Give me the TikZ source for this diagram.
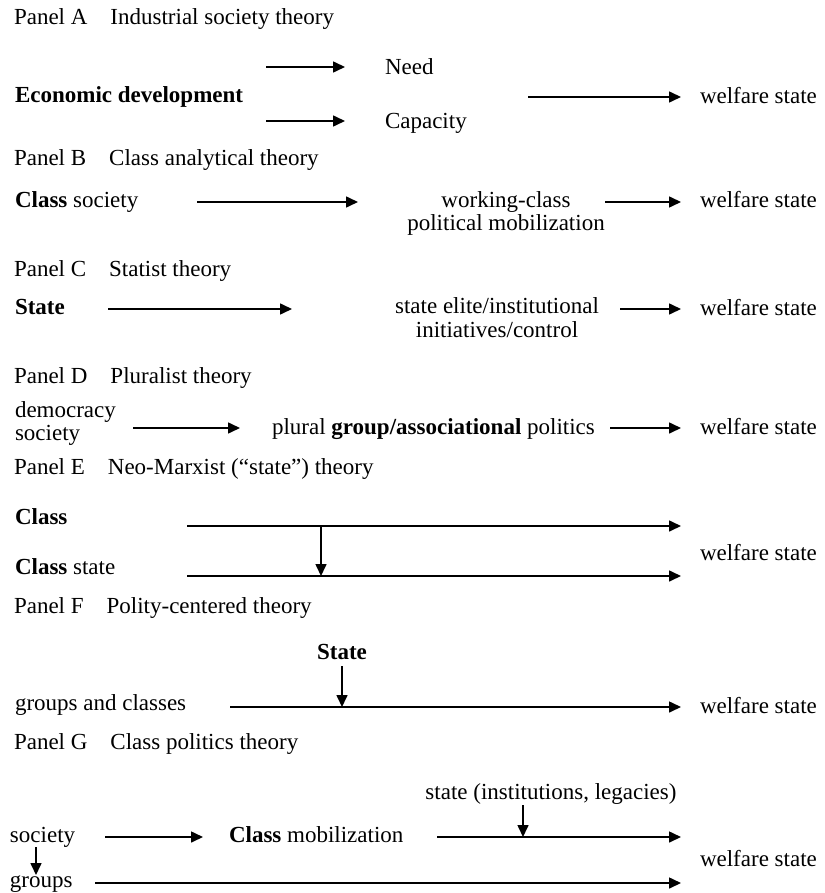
\documentclass[tikz,border=0pt]{standalone}
\usepackage{fontspec}
\setmainfont{Liberation Serif}
\usetikzlibrary{arrows.meta}
\begin{document}
\begin{tikzpicture}[x=0.5pt,y=-0.5pt,
  every node/.style={font=\fontsize{11.5}{13.8}\selectfont, inner sep=0pt, outer sep=0pt},
  txt/.style={anchor=base west},
  ctxt/.style={anchor=base},
  arr/.style={-{Triangle[length=6pt,width=5.5pt]}, line width=0.8pt}]
\useasboundingbox (0,0) rectangle (824,893);
% Panel A
\node[txt] (tA) at (14,25) {Panel A\hspace{1em}Industrial society theory};
\node[txt] (econ) at (15,103) {\bfseries Economic development};
\node[txt] (need) at (385,75) {Need};
\node[txt] (cap) at (385,129) {Capacity};
\node[txt] (wA) at (700,104) {welfare state};
\coordinate (a1s) at (266,67); \coordinate (a1e) at (345,67);
\coordinate (a2s) at (266,121); \coordinate (a2e) at (345,121);
\coordinate (a3s) at (528,97); \coordinate (a3e) at (681,97);
\draw[arr] (a1s) -- (a1e);
\draw[arr] (a2s) -- (a2e);
\draw[arr] (a3s) -- (a3e);
% Panel B
\node[txt] (tB) at (14,166) {Panel B\hspace{1em}Class analytical theory};
\node[txt] (clsoc) at (15,207) {\textbf{Class} society};
\node[ctxt] (wc1) at (506,207) {working-class};
\node[ctxt] (wc2) at (506,231) {political mobilization};
\node[txt] (wB) at (700,208) {welfare state};
\coordinate (b1s) at (197,202); \coordinate (b1e) at (358,202);
\coordinate (b2s) at (605,202); \coordinate (b2e) at (681,202);
\draw[arr] (b1s) -- (b1e);
\draw[arr] (b2s) -- (b2e);
% Panel C
\node[txt] (tC) at (14,276) {Panel C\hspace{1em}Statist theory};
\node[txt] (stC) at (15,314) {\bfseries State};
\node[ctxt] (se1) at (497,313) {state elite/institutional};
\node[ctxt] (se2) at (497,337) {initiatives/control};
\node[txt] (wC) at (700,315) {welfare state};
\coordinate (c1s) at (108,309); \coordinate (c1e) at (292,309);
\coordinate (c2s) at (620,309); \coordinate (c2e) at (681,309);
\draw[arr] (c1s) -- (c1e);
\draw[arr] (c2s) -- (c2e);
% Panel D
\node[txt] (tD) at (14,383) {Panel D\hspace{1em}Pluralist theory};
\node[txt] (dem) at (15,417) {democracy};
\node[txt] (soc) at (15,440) {society};
\node[txt] (plu) at (272,434) {plural \textbf{group/associational} politics};
\node[txt] (wD) at (700,434) {welfare state};
\coordinate (d1s) at (133,428); \coordinate (d1e) at (240,428);
\coordinate (d2s) at (610,428); \coordinate (d2e) at (681,428);
\draw[arr] (d1s) -- (d1e);
\draw[arr] (d2s) -- (d2e);
% Panel E
\node[txt] (tE) at (14,474) {Panel E\hspace{1em}Neo-Marxist (“state”) theory};
\node[txt] (clE) at (15,524) {\bfseries Class};
\node[txt] (clsE) at (15,574) {\textbf{Class} state};
\node[txt] (wE) at (700,560) {welfare state};
\coordinate (e1s) at (187,526); \coordinate (e1e) at (681,526);
\coordinate (e2s) at (187,576); \coordinate (e2e) at (681,576);
\coordinate (evs) at (321,526); \coordinate (eve) at (321,576);
\draw[arr] (e1s) -- (e1e);
\draw[arr] (e2s) -- (e2e);
\draw[arr] (evs) -- (eve);
% Panel F
\node[txt] (tF) at (14,613) {Panel F\hspace{1em}Polity-centered theory};
\node[ctxt] (stF) at (342,659) {\bfseries State};
\node[txt] (gc) at (15,710) {groups and classes};
\node[txt] (wF) at (700,713) {welfare state};
\coordinate (f1s) at (230,707); \coordinate (f1e) at (681,707);
\coordinate (fvs) at (342,666); \coordinate (fve) at (342,707);
\draw[arr] (f1s) -- (f1e);
\draw[arr] (fvs) -- (fve);
% Panel G
\node[txt] (tG) at (14,749) {Panel G\hspace{1em}Class politics theory};
\node[ctxt] (stG) at (551,799) {state (institutions, legacies)};
\node[txt] (socG) at (10,842) {society};
\node[txt] (cmob) at (229,842) {\textbf{Class} mobilization};
\node[txt] (grp) at (10,887) {groups};
\node[txt] (wG) at (700,866) {welfare state};
\coordinate (g1s) at (105,837); \coordinate (g1e) at (203,837);
\coordinate (g2s) at (437,837); \coordinate (g2e) at (681,837);
\coordinate (g3s) at (95,883); \coordinate (g3e) at (681,883);
\coordinate (gvs) at (523,805); \coordinate (gve) at (523,837);
\coordinate (svs) at (36,847); \coordinate (sve) at (36,875);
\draw[arr] (g1s) -- (g1e);
\draw[arr] (g2s) -- (g2e);
\draw[arr] (g3s) -- (g3e);
\draw[arr] (gvs) -- (gve);
\draw[arr] (svs) -- (sve);
\end{tikzpicture}
\end{document}
